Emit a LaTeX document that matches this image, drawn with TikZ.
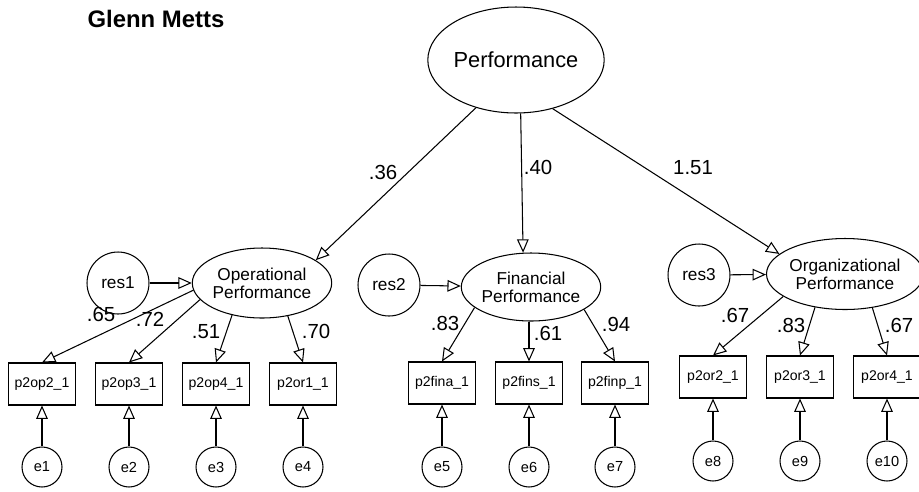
\documentclass[tikz,border=0pt]{standalone}
\usepackage{fontspec}
\setmainfont{Liberation Sans}
\usetikzlibrary{arrows.meta,shapes.geometric}

\begin{document}
\begin{tikzpicture}[x=0.02cm,y=-0.02cm,line width=0.6pt,
 >={Triangle[open,length=7.6pt,width=6.6pt]},
 latent/.style={draw,ellipse,inner sep=0pt,align=center,
 font=\fontsize{9.8}{10.2}\selectfont},
 res/.style={draw,circle,inner sep=0pt,minimum size=1.24cm,font=\fontsize{9.8}{11}\selectfont},
 obs/.style={draw,inner sep=0pt,minimum width=1.34cm,minimum height=0.84cm,
 font=\fontsize{8}{9}\selectfont},
 err/.style={draw,circle,inner sep=0pt,minimum size=0.8cm,font=\fontsize{8.3}{9}\selectfont},
 wt/.style={inner sep=0pt,font=\fontsize{11.6}{13}\selectfont}]
\useasboundingbox (0,0) rectangle (919,491);
\node[font=\fontsize{13.6}{15}\selectfont\bfseries] (title) at (156,19) {Glenn Metts};
% latent variables
\node[latent,minimum width=3.02cm,minimum height=2.12cm,font=\fontsize{12.4}{14}\selectfont]
 (perf) at (516,60) {Performance};
\node[latent,minimum width=2.74cm,minimum height=1.4cm] (oper) at (262,283) {Operational\\Performance};
\node[latent,minimum width=2.74cm,minimum height=1.36cm] (fin) at (531,287) {Financial\\Performance};
\node[latent,minimum width=2.68cm,minimum height=1.42cm] (org) at (845,274) {Organizational\\Performance};
\node[res] (res1) at (118,283) {res1};
\node[res] (res2) at (389,285) {res2};
\node[res] (res3) at (699,275) {res3};
% indicators
\node[obs] (op2) at (42,384) {p2op2\_1};
\node[obs] (op3) at (129,384) {p2op3\_1};
\node[obs] (op4) at (216,384) {p2op4\_1};
\node[obs] (or1) at (303,384) {p2or1\_1};
\node[obs] (fina) at (442,383) {p2fina\_1};
\node[obs] (fins) at (529,383) {p2fins\_1};
\node[obs] (finp) at (615,383) {p2finp\_1};
\node[obs] (or2) at (713,377) {p2or2\_1};
\node[obs] (or3) at (800,377) {p2or3\_1};
\node[obs] (or4) at (887,377) {p2or4\_1};
% errors
\node[err] (e1) at (42,467) {e1};
\node[err] (e2) at (129,467) {e2};
\node[err] (e3) at (216,467) {e3};
\node[err] (e4) at (303,467) {e4};
\node[err] (e5) at (442,467) {e5};
\node[err] (e6) at (529,467) {e6};
\node[err] (e7) at (615,467) {e7};
\node[err] (e8) at (713,461) {e8};
\node[err] (e9) at (800,461) {e9};
\node[err] (e10) at (887,461) {e10};
% paths
\draw[->] (perf.230) -- (oper.23);
\draw[->] (perf.275) -- (fin.103);
\draw[->] (perf.307) -- (org.163);
\draw[->] (res1) -- (oper);
\draw[->] (res2) -- (fin);
\draw[->] (res3) -- (org);
\draw[->] (oper.186) -- (op2.north);
\draw[->] (oper.195) -- (op3.north);
\draw[->] (oper.227) -- (op4.north);
\draw[->] (oper.308) -- (or1.north);
\draw[->] (fin.200) -- (fina.north);
\draw[->] (fins.north |- fin.south) -- (fins.north);
\draw[->] (fin.337) -- (finp.north);
\draw[->] (org.200) -- (or2.north);
\draw[->] (org.228) -- (or3.north);
\draw[->] (org.309) -- (or4.north);
\draw[->] (e1) -- (op2);
\draw[->] (e2) -- (op3);
\draw[->] (e3) -- (op4);
\draw[->] (e4) -- (or1);
\draw[->] (e5) -- (fina);
\draw[->] (e6) -- (fins);
\draw[->] (e7) -- (finp);
\draw[->] (e8) -- (or2);
\draw[->] (e9) -- (or3);
\draw[->] (e10) -- (or4);
% weights
\node[wt] (w1) at (383,172) {.36};
\node[wt] (w2) at (538,167) {.40};
\node[wt] (w3) at (693,168) {1.51};
\node[wt] (w4) at (101,314) {.65};
\node[wt] (w5) at (150,319) {.72};
\node[wt] (w6) at (206,332) {.51};
\node[wt] (w7) at (316,331) {.70};
\node[wt] (w8) at (445,323) {.83};
\node[wt] (w9) at (548,333) {.61};
\node[wt] (w10) at (616,324) {.94};
\node[wt] (w11) at (735,315) {.67};
\node[wt] (w12) at (791,325) {.83};
\node[wt] (w13) at (899,325) {.67};
\end{tikzpicture}
\end{document}
